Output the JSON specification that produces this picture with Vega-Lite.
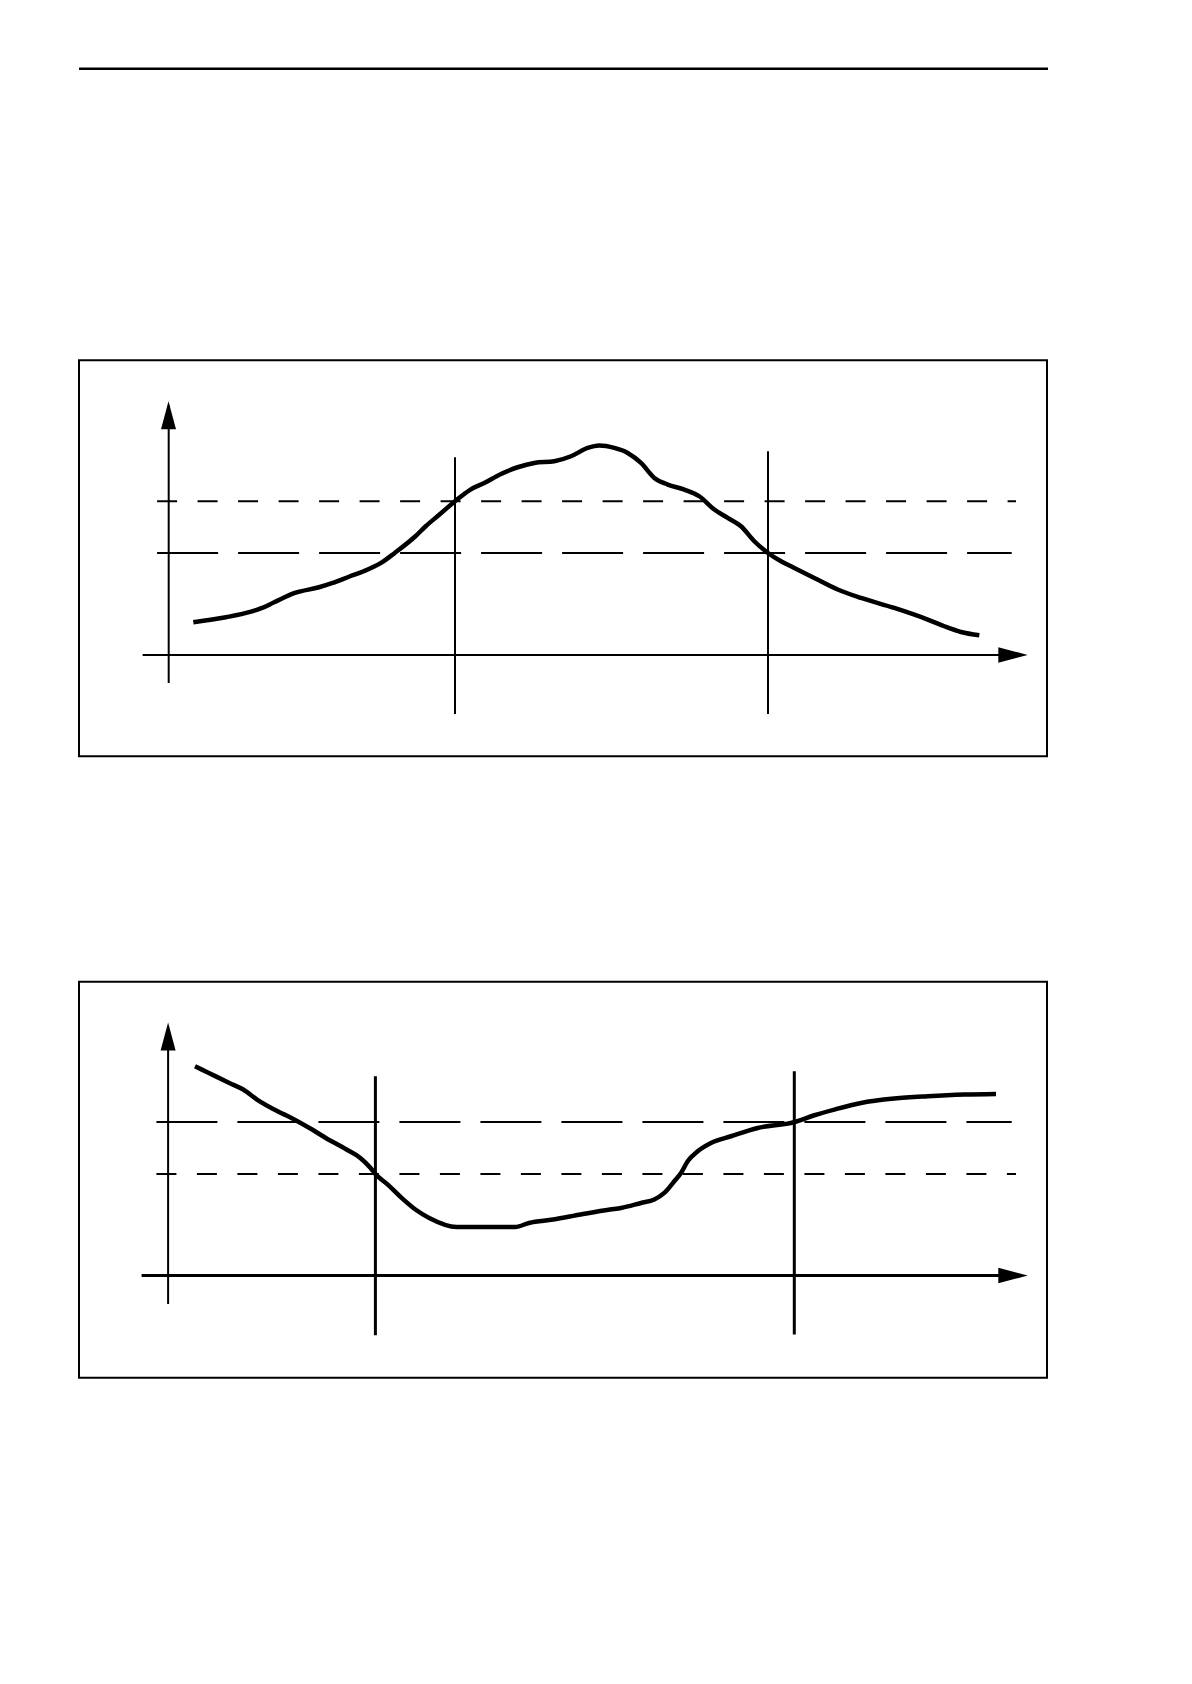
{
  "$schema": "https://vega.github.io/schema/vega-lite/v6.json",
  "background": "white",
  "padding": {"left": 77, "top": 66.75, "right": 10, "bottom": 10},
  "bounds": "flush",
  "spacing": 225.5,
  "config": {"view": {"stroke": "black", "strokeWidth": 2}},
  "datasets": {
    "top_rule": [{"a": 0, "b": 1, "h": 1}],
    "p1_solid": [
      {"t": -0.3, "t2": -0.3, "v": -27.7, "v2": 250},
      {"t": -26.4, "t2": 835, "v": 0.3, "v2": 0.3},
      {"t": 286, "t2": 286, "v": -58.7, "v2": 198},
      {"t": 599, "t2": 599, "v": -58.7, "v2": 204}
    ],
    "p1_short": [{"t": -11.9, "t2": 847, "v": 154, "v2": 154}],
    "p1_long": [{"t": -11.9, "t2": 842.7, "v": 102.3, "v2": 102.3}],
    "p1_up": [{"t": -0.5, "v": 240}],
    "p1_right": [{"t": 844, "v": 0.3}],
    "p1_curve": [
      {"t": 24.3, "v": 33}, {"t": 57, "v": 38}, {"t": 81.1, "v": 43.3}, {"t": 93.1, "v": 47.3},
      {"t": 105.2, "v": 53}, {"t": 125.9, "v": 62.3}, {"t": 150, "v": 68}, {"t": 163.7, "v": 72.3},
      {"t": 181, "v": 79}, {"t": 194.7, "v": 84}, {"t": 212, "v": 92.3}, {"t": 225.7, "v": 102.3},
      {"t": 246.4, "v": 119}, {"t": 256.7, "v": 129}, {"t": 270.5, "v": 140.7}, {"t": 286, "v": 154},
      {"t": 301.5, "v": 165.7}, {"t": 315.3, "v": 172.3}, {"t": 332, "v": 181.3}, {"t": 348.7, "v": 188},
      {"t": 365.3, "v": 192.3}, {"t": 385.3, "v": 194}, {"t": 402, "v": 199}, {"t": 418.7, "v": 207.3},
      {"t": 430.3, "v": 209.7}, {"t": 445.3, "v": 207.3}, {"t": 458.7, "v": 202.3}, {"t": 472, "v": 192.3},
      {"t": 485.3, "v": 177.3}, {"t": 498.7, "v": 170.7}, {"t": 515.3, "v": 165.7}, {"t": 530.3, "v": 159},
      {"t": 545.3, "v": 145.7}, {"t": 558.7, "v": 137.3}, {"t": 572, "v": 129}, {"t": 585.3, "v": 114},
      {"t": 599, "v": 102.3}, {"t": 612, "v": 94}, {"t": 625.3, "v": 87.3}, {"t": 645.3, "v": 77.3},
      {"t": 668.7, "v": 65.7}, {"t": 692, "v": 57.3}, {"t": 725.3, "v": 47.3}, {"t": 758.7, "v": 35.7},
      {"t": 775.3, "v": 29}, {"t": 792, "v": 23.3}, {"t": 810.3, "v": 20}
    ],
    "p2_thin": [{"t": -0.9, "t2": -0.9, "v": -27.2, "v2": 249.5}],
    "p2_thick": [
      {"t": -27.4, "t2": 835, "v": 1.2, "v2": 1.2},
      {"t": 206.4, "t2": 206.4, "v": -58.5, "v2": 200.5},
      {"t": 625.3, "t2": 625.3, "v": -57.8, "v2": 205.5}
    ],
    "p2_long": [{"t": -12.6, "t2": 842.7, "v": 154.7, "v2": 154.7}],
    "p2_short": [{"t": -12.6, "t2": 847, "v": 102.8, "v2": 102.8}],
    "p2_up": [{"t": -0.9, "v": 240.2}],
    "p2_right": [{"t": 844, "v": 1.2}],
    "p2_curve": [
      {"t": 26, "v": 210.5}, {"t": 39.8, "v": 203.8}, {"t": 60.4, "v": 193.8}, {"t": 74.2, "v": 187.2},
      {"t": 88, "v": 177.2}, {"t": 108.6, "v": 165.5}, {"t": 122.4, "v": 158.8}, {"t": 143.1, "v": 147.2},
      {"t": 156.8, "v": 138.8}, {"t": 177.5, "v": 127.2}, {"t": 191.3, "v": 118.8}, {"t": 201.6, "v": 108.8},
      {"t": 206.4, "v": 102.8}, {"t": 218.8, "v": 92.2}, {"t": 232.6, "v": 78.8}, {"t": 246.4, "v": 67.2},
      {"t": 260.2, "v": 58.8}, {"t": 287.7, "v": 49.8}, {"t": 346.3, "v": 49.8}, {"t": 360, "v": 53.8},
      {"t": 384.1, "v": 57.2}, {"t": 411.7, "v": 62.2}, {"t": 441, "v": 67.2}, {"t": 452, "v": 68.8},
      {"t": 472, "v": 73.8}, {"t": 485.3, "v": 77.2}, {"t": 495.3, "v": 83.8}, {"t": 505.3, "v": 95.5},
      {"t": 512, "v": 103.8}, {"t": 518.7, "v": 115.5}, {"t": 528.7, "v": 125.5}, {"t": 542, "v": 133.8},
      {"t": 562, "v": 140.5}, {"t": 588.7, "v": 148.8}, {"t": 625.3, "v": 154.7}, {"t": 645.3, "v": 161.5},
      {"t": 665.3, "v": 167.2}, {"t": 692, "v": 173.8}, {"t": 725.3, "v": 178.2}, {"t": 758.7, "v": 180.5},
      {"t": 795.3, "v": 182.2}, {"t": 827, "v": 182.8}
    ]
  },
  "vconcat": [
    {
      "width": 969,
      "height": 65.5,
      "view": {"stroke": null},
      "data": {"name": "top_rule"},
      "mark": {"type": "rule", "color": "black", "strokeWidth": 2.5},
      "encoding": {
        "x": {"field": "a", "type": "quantitative", "scale": {"domain": [0, 1], "nice": false, "zero": false}, "axis": null},
        "x2": {"field": "b"},
        "y": {"field": "h", "type": "quantitative", "scale": {"domain": [0, 1], "nice": false}, "axis": null}
      }
    },
    {
      "width": 968,
      "height": 396,
      "encoding": {
        "x": {"field": "t", "type": "quantitative", "scale": {"domain": [-90, 878], "nice": false, "zero": false}, "axis": null},
        "y": {"field": "v", "type": "quantitative", "scale": {"domain": [-101, 295], "nice": false, "zero": false}, "axis": null}
      },
      "layer": [
        {"data": {"name": "p1_solid"}, "mark": {"type": "rule", "color": "black", "strokeWidth": 2}, "encoding": {"x2": {"field": "t2"}, "y2": {"field": "v2"}}},
        {"data": {"name": "p1_short"}, "mark": {"type": "rule", "color": "black", "strokeWidth": 2, "strokeDash": [20, 20.5], "strokeCap": "butt"}, "encoding": {"x2": {"field": "t2"}, "y2": {"field": "v2"}}},
        {"data": {"name": "p1_long"}, "mark": {"type": "rule", "color": "black", "strokeWidth": 2, "strokeDash": [61, 20], "strokeCap": "butt"}, "encoding": {"x2": {"field": "t2"}, "y2": {"field": "v2"}}},
        {"data": {"name": "p1_curve"}, "mark": {"type": "line", "color": "black", "strokeWidth": 4.5, "interpolate": "monotone", "strokeCap": "butt"}, "encoding": {"order": {"field": "t", "type": "quantitative"}}},
        {"data": {"name": "p1_up"}, "mark": {"type": "point", "shape": "M0,-1L0.536,1L-0.536,1Z", "size": 784, "filled": true, "color": "black", "opacity": 1, "strokeWidth": 0}},
        {"data": {"name": "p1_right"}, "mark": {"type": "point", "shape": "M1,0L-1,-0.53L-1,0.53Z", "size": 864, "filled": true, "color": "black", "opacity": 1, "strokeWidth": 0}}
      ]
    },
    {
      "width": 968,
      "height": 396,
      "encoding": {
        "x": {"field": "t", "type": "quantitative", "scale": {"domain": [-90, 878], "nice": false, "zero": false}, "axis": null},
        "y": {"field": "v", "type": "quantitative", "scale": {"domain": [-101, 295], "nice": false, "zero": false}, "axis": null}
      },
      "layer": [
        {"data": {"name": "p2_thin"}, "mark": {"type": "rule", "color": "black", "strokeWidth": 2}, "encoding": {"x2": {"field": "t2"}, "y2": {"field": "v2"}}},
        {"data": {"name": "p2_thick"}, "mark": {"type": "rule", "color": "black", "strokeWidth": 3}, "encoding": {"x2": {"field": "t2"}, "y2": {"field": "v2"}}},
        {"data": {"name": "p2_long"}, "mark": {"type": "rule", "color": "black", "strokeWidth": 2, "strokeDash": [61, 20], "strokeCap": "butt"}, "encoding": {"x2": {"field": "t2"}, "y2": {"field": "v2"}}},
        {"data": {"name": "p2_short"}, "mark": {"type": "rule", "color": "black", "strokeWidth": 2, "strokeDash": [20, 20.5], "strokeCap": "butt"}, "encoding": {"x2": {"field": "t2"}, "y2": {"field": "v2"}}},
        {"data": {"name": "p2_curve"}, "mark": {"type": "line", "color": "black", "strokeWidth": 4.5, "interpolate": "monotone", "strokeCap": "butt"}, "encoding": {"order": {"field": "t", "type": "quantitative"}}},
        {"data": {"name": "p2_up"}, "mark": {"type": "point", "shape": "M0,-1L0.536,1L-0.536,1Z", "size": 784, "filled": true, "color": "black", "opacity": 1, "strokeWidth": 0}},
        {"data": {"name": "p2_right"}, "mark": {"type": "point", "shape": "M1,0L-1,-0.53L-1,0.53Z", "size": 864, "filled": true, "color": "black", "opacity": 1, "strokeWidth": 0}}
      ]
    }
  ]
}
